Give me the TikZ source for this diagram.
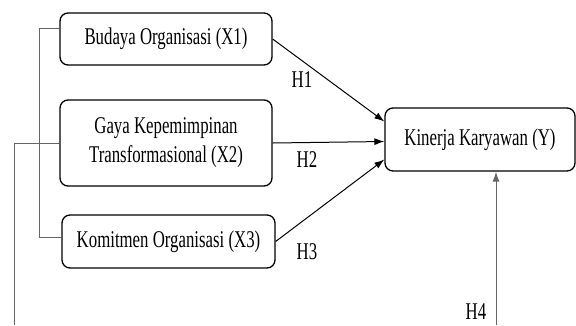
\documentclass[tikz,border=0pt]{standalone}
\usepackage{fontspec}
\setmainfont{Liberation Serif}[FakeStretch=0.7]
\usepackage{tikz}
\usetikzlibrary{shapes, arrows.meta}

\tikzset{
  varbox/.style={draw, line width=1.3pt, rounded corners=8pt, align=center, font=\fontsize{24}{29}\selectfont},
  hlabel/.style={font=\fontsize{24}{29}\selectfont},
  hyp/.style={line width=1pt, -{Latex[length=10pt,width=7pt]}}
}

\begin{document}
\begin{tikzpicture}[x=1pt, y=-1pt]
		\useasboundingbox (0,0) rectangle (576,325);
		% variables
		\node[varbox, minimum width=212pt, minimum height=52pt] (X1) at (166,39) {Budaya Organisasi (X1)};
		\node[varbox, minimum width=212pt, minimum height=86pt] (X2) at (166,143) {Gaya Kepemimpinan\\Transformasional (X2)};
		\node[varbox, minimum width=213pt, minimum height=53pt] (X3) at (168.5,241.5) {Komitmen Organisasi (X3)};
		\node[varbox, minimum width=190pt, minimum height=63pt] (Y) at (480,139.5) {Kinerja Karyawan (Y)};
		% hypotheses
		\draw[hyp] (X1.east) -- ([yshift=18pt]Y.west);
		\draw[hyp] (X2.east) -- ([yshift=-2pt]Y.west);
		\draw[hyp] (X3.east) -- ([yshift=-20pt]Y.west);
		\node[hlabel] (h1) at (302,80) {H1};
		\node[hlabel] (h2) at (307,160) {H2};
		\node[hlabel] (h3) at (307,252) {H3};
		\node[hlabel] (h4) at (476,312) {H4};
		% left lines
		\draw[gray!80!black, line width=1pt] ([yshift=11pt]X1.west) -- ++(-20,0) |- ([yshift=4.5pt]X3.west);
		\coordinate (bl) at (14,325);
		\coordinate (br) at (496,325);
		\draw[gray!80!black, line width=1pt] (X2.west) -| (bl);
		\draw[hyp, gray!80!black] (br) -- (br |- Y.south);
		\end{tikzpicture}
\end{document}
